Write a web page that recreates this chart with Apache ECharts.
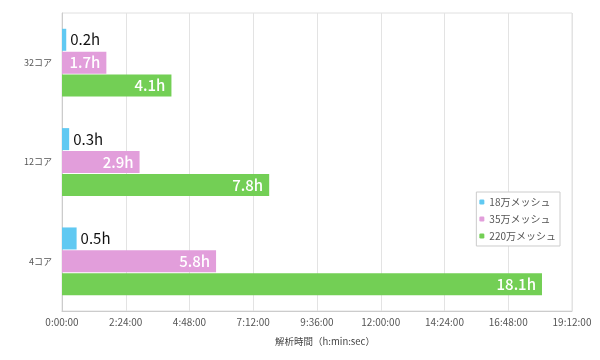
<!DOCTYPE html>
<html><head><meta charset="utf-8">
<script src="https://cdn.jsdelivr.net/npm/echarts@6/dist/echarts.min.js"></script>
<style>html,body{margin:0;padding:0;background:#fff}#c{width:600px;height:360px}</style>
</head><body><div id="c"></div>
<script>
var categories = ['32コア', '12コア', '4コア'];
var seriesNames = ['18万メッシュ', '35万メッシュ', '220万メッシュ'];
var mesh18 = [0.16, 0.27, 0.55];
var mesh35 = [1.67, 2.92, 5.8];
var mesh220 = [4.12, 7.8, 18.07];
var labels18 = ['0.2h', '0.3h', '0.5h'];
var labels35 = ['1.7h', '2.9h', '5.8h'];
var labels220 = ['4.1h', '7.8h', '18.1h'];
var colors = ['#60c9f2', '#e29edb', '#73cf55'];
var axisName = '解析時間（h:min:sec）';

function hms(v) {
  var s = Math.round(v * 3600);
  var h = Math.floor(s / 3600), m = Math.floor((s % 3600) / 60), sec = s % 60;
  return h + ':' + (m < 10 ? '0' : '') + m + ':' + (sec < 10 ? '0' : '') + sec;
}
var font = '"Noto Sans CJK JP", "Noto Sans", sans-serif';
function mk(name, data, lbls, color, inside) {
  return {
    name: name, type: 'bar', data: data, barWidth: 22, barGap: '4%',
    itemStyle: { color: color },
    label: {
      show: true, position: inside ? 'insideRight' : 'right',
      color: inside ? '#fff' : '#111', fontSize: 15, fontWeight: inside ? 500 : 'normal',
      fontFamily: font, distance: inside ? 6 : 4,
      formatter: function (p) { return lbls[p.dataIndex]; }
    }
  };
}
var chart = echarts.init(document.getElementById('c'));
chart.setOption({
  animation: false,
  textStyle: { fontFamily: font },
  grid: { left: 62, right: 28, top: 13, bottom: 49, show: true, borderColor: '#e0e0e0', borderWidth: 1 },
  legend: {
    orient: 'vertical', right: 40, top: 192, itemWidth: 5, itemHeight: 5, itemGap: 7,
    borderColor: '#cccccc', borderWidth: 1, padding: [5, 4, 5, 3], backgroundColor: '#fff',
    textStyle: { fontSize: 10, color: '#555', fontFamily: font },
    data: seriesNames
  },
  xAxis: {
    type: 'value', min: 0, max: 19.2, interval: 2.4,
    name: axisName, nameLocation: 'middle', nameGap: 26,
    nameTextStyle: { fontSize: 9.5, color: '#444', padding: [0, 0, 0, 16] },
    axisLine: { show: true, lineStyle: { color: '#cccccc' } },
    axisTick: { show: false },
    splitLine: { show: true, lineStyle: { color: '#e3e3e3' } },
    axisLabel: { formatter: hms, fontSize: 10, color: '#555', margin: 6 }
  },
  yAxis: {
    type: 'category', data: categories, inverse: true,
    axisLine: { show: true, lineStyle: { color: '#cccccc' } },
    axisTick: { show: false },
    axisLabel: { fontSize: 9, color: '#555', margin: 10 }
  },
  series: [
    mk(seriesNames[0], mesh18, labels18, colors[0], false),
    mk(seriesNames[1], mesh35, labels35, colors[1], true),
    mk(seriesNames[2], mesh220, labels220, colors[2], true)
  ]
});
</script></body></html>
